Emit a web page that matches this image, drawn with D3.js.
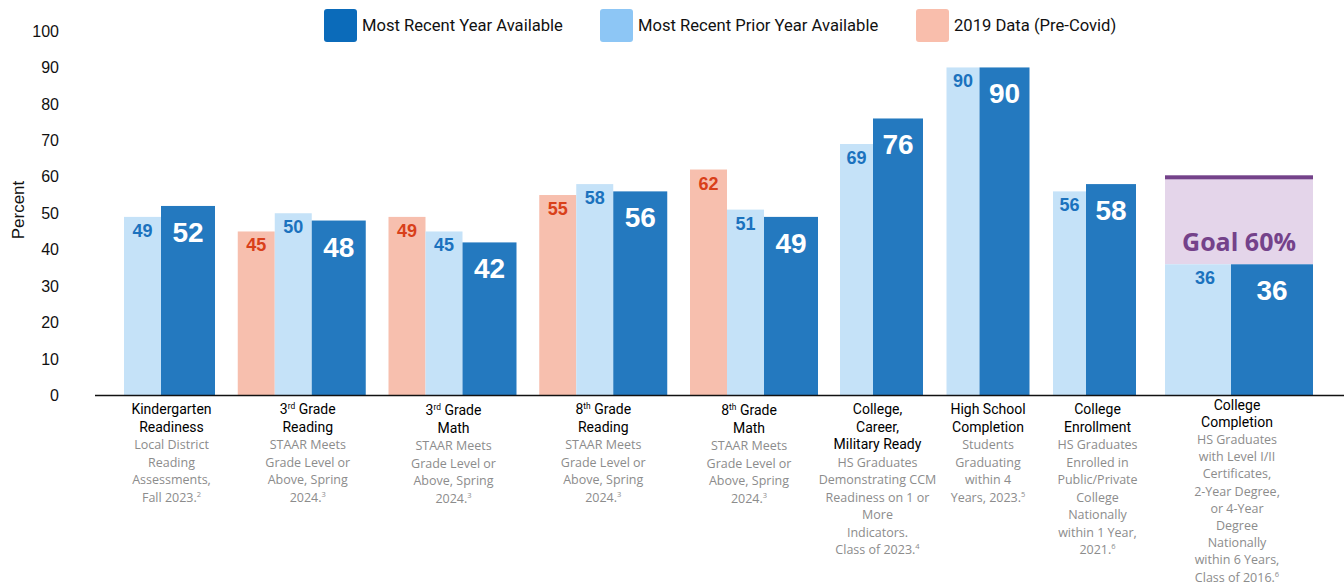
<!DOCTYPE html>
<html>
<head>
<meta charset="utf-8">
<script src="https://cdn.jsdelivr.net/npm/d3@7"></script>
<style>
  body { margin: 0; background: white; }
  svg { display: block; }
</style>
</head>
<body>
<div id="container"></div>
<script>
// data
const categories = ["Kindergarten Readiness", "3rd Grade Reading", "3rd Grade Math", "8th Grade Reading",
  "8th Grade Math", "College, Career, Military Ready", "High School Completion", "College Enrollment", "College Completion"]
const recent = [52, 48, 42, 56, 49, 76, 90, 58, 36]
const prior = [49, 50, 45, 58, 51, 69, 90, 56, 36]
const pre2019 = [null, 45, 49, 55, 62, null, null, null, null]
const goalValue = 60
const yTicks = [0, 10, 20, 30, 40, 50, 60, 70, 80, 90, 100]
const legendLabels = ["Most Recent Year Available", "Most Recent Prior Year Available", "2019 Data (Pre-Covid)"]

// label lines: [text, superscript, rest]
const titleLines = [
  [["Kindergarten"], ["Readiness"]],
  [["3", "rd", " Grade"], ["Reading"]],
  [["3", "rd", " Grade"], ["Math"]],
  [["8", "th", " Grade"], ["Reading"]],
  [["8", "th", " Grade"], ["Math"]],
  [["College,"], ["Career,"], ["Military Ready"]],
  [["High School"], ["Completion"]],
  [["College"], ["Enrollment"]],
  [["College"], ["Completion"]]
]
const subLines = [
  [["Local District"], ["Reading"], ["Assessments,"], ["Fall 2023.", "2"]],
  [["STAAR Meets"], ["Grade Level or"], ["Above, Spring"], ["2024.", "3"]],
  [["STAAR Meets"], ["Grade Level or"], ["Above, Spring"], ["2024.", "3"]],
  [["STAAR Meets"], ["Grade Level or"], ["Above, Spring"], ["2024.", "3"]],
  [["STAAR Meets"], ["Grade Level or"], ["Above, Spring"], ["2024.", "3"]],
  [["HS Graduates"], ["Demonstrating CCM"], ["Readiness on 1 or"], ["More"], ["Indicators."], ["Class of 2023.", "4"]],
  [["Students"], ["Graduating"], ["within 4"], ["Years, 2023.", "5"]],
  [["HS Graduates"], ["Enrolled in"], ["Public/Private"], ["College"], ["Nationally"], ["within 1 Year,"], ["2021.", "6"]],
  [["HS Graduates"], ["with Level I/II"], ["Certificates,"], ["2-Year Degree,"], ["or 4-Year"], ["Degree"], ["Nationally"], ["within 6 Years,"], ["Class of 2016.", "6"]]
]

const DARK = '#2479bf'
const LIGHT = '#c5e2f8'
const SALMON = '#f7bfae'

const W = 1344, H = 586
const svg = d3.select('#container').append('svg')
  .attr('width', W).attr('height', H)
  .style('font-family', '"Open Sans", sans-serif')

const y = d3.scaleLinear().domain([0, 100]).range([395.5, 31])

// group layout: left edge and bar widths [salmon, light, dark]
function groupLayout(i) {
  if (i < 5) return {x: 87 + i * 150.75, w: [37, 37, 54]}
  if (i < 8) return {x: 840 + (i - 5) * 106.5, w: [0, 33, 50]}
  return {x: 1165, w: [0, 66, 82]}
}
const labelDx = [2, 6, 1, 0, -5, -4, 0, 3, -2]
const groups = categories.map((c, i) => {
  const g = groupLayout(i)
  const xSalmon = g.x
  const xLight = i < 5 ? g.x + g.w[0] : g.x
  const xDark = xLight + g.w[1]
  return {i, c, xSalmon, xLight, xDark, w: g.w, left: i < 5 && pre2019[i] == null ? xLight : g.x, right: xDark + g.w[2]}
})

// y axis tick labels
svg.append('g').selectAll('text').data(yTicks).join('text')
  .attr('x', 59).attr('y', d => y(d)).attr('dy', '0.35em')
  .attr('text-anchor', 'end')
  .style('font-family', '"Liberation Sans", Arial, sans-serif')
  .style('font-size', '16px').attr('fill', '#111')
  .text(d => d)

svg.append('text')
  .attr('transform', 'translate(24,210) rotate(-90)')
  .attr('text-anchor', 'middle')
  .style('font-family', '"Liberation Sans", Arial, sans-serif')
  .style('font-size', '17px').attr('fill', '#111')
  .text('Percent')

// goal box for last group
const last = groups[8]
svg.append('rect')
  .attr('x', last.xLight).attr('y', y(goalValue))
  .attr('width', last.right - last.xLight).attr('height', y(recent[8]) - y(goalValue))
  .attr('fill', '#e4d5ea')
svg.append('rect')
  .attr('x', last.xLight).attr('y', y(goalValue) - 1.5)
  .attr('width', last.right - last.xLight).attr('height', 4)
  .attr('fill', '#74428a')
svg.append('text')
  .attr('x', (last.xLight + last.right) / 2).attr('y', 251)
  .attr('text-anchor', 'middle')
  .style('font-size', '25px').style('font-weight', 700).attr('fill', '#74428a')
  .text('Goal ' + goalValue + '%')

// bars
const bars = svg.append('g')
bars.selectAll('rect.pre').data(groups.filter(g => pre2019[g.i] != null)).join('rect')
  .attr('class', 'pre')
  .attr('x', g => g.xSalmon).attr('width', g => g.w[0])
  .attr('y', g => y(pre2019[g.i])).attr('height', g => y(0) - y(pre2019[g.i]))
  .attr('fill', SALMON)
bars.selectAll('rect.prior').data(groups).join('rect')
  .attr('class', 'prior')
  .attr('x', g => g.xLight).attr('width', g => g.w[1])
  .attr('y', g => y(prior[g.i])).attr('height', g => y(0) - y(prior[g.i]))
  .attr('fill', LIGHT)
bars.selectAll('rect.recent').data(groups).join('rect')
  .attr('class', 'recent')
  .attr('x', g => g.xDark).attr('width', g => g.w[2])
  .attr('y', g => y(recent[g.i])).attr('height', g => y(0) - y(recent[g.i]))
  .attr('fill', DARK)

// value labels
const labels = svg.append('g').style('font-weight', 700).attr('text-anchor', 'middle')
  .style('font-family', '"Liberation Sans", Arial, sans-serif')
labels.selectAll('text.pre').data(groups.filter(g => pre2019[g.i] != null)).join('text')
  .attr('x', g => g.xSalmon + g.w[0] / 2).attr('y', g => y(pre2019[g.i]) + 20)
  .style('font-size', '18px').attr('fill', '#d9401a')
  .text(g => pre2019[g.i])
labels.selectAll('text.prior').data(groups).join('text')
  .attr('x', g => g.xLight + g.w[1] / 2 + (g.i == 8 ? 7 : 0))
  .attr('y', g => y(prior[g.i]) + 20)
  .style('font-size', '18px').attr('fill', '#1b72be')
  .text(g => prior[g.i])
labels.selectAll('text.recent').data(groups).join('text')
  .attr('x', g => g.xDark + g.w[2] / 2).attr('y', g => y(recent[g.i]) + 36)
  .style('font-size', '28px').attr('fill', 'white')
  .text(g => recent[g.i])

// x axis line
svg.append('line')
  .attr('x1', 95).attr('x2', W).attr('y1', 395.5).attr('y2', 395.5)
  .attr('stroke', '#111').attr('stroke-width', 1.5)

// category labels
function addLine(sel, parts, size) {
  sel.append('tspan').text(parts[0])
  if (parts.length > 1) {
    sel.append('tspan').attr('dy', -5).style('font-size', (size * 0.6) + 'px').text(parts[1])
    if (parts.length > 2) sel.append('tspan').attr('dy', 5).text(parts[2])
  }
}
groups.forEach(g => {
  const cx = (g.left + g.right) / 2 + labelDx[g.i]
  const top = g.i == 8 ? 410 : (g.i == 2 || g.i == 4 ? 415 : 414)
  const lh = 17.5
  const slh = g.i == 8 ? 17.2 : 17.5
  titleLines[g.i].forEach((ln, k) => {
    const t = svg.append('text').attr('x', cx).attr('y', top + k * (g.i == 8 ? 17 : lh))
      .attr('text-anchor', 'middle')
      .style('font-family', 'Roboto, sans-serif').style('font-weight', 400)
      .style('font-size', '14px').attr('fill', '#000')
    addLine(t, ln, 14)
  })
  const sTop = top + titleLines[g.i].length * (g.i == 8 ? 17 : lh)
  subLines[g.i].forEach((ln, k) => {
    const t = svg.append('text').attr('x', cx).attr('y', sTop + k * slh)
      .attr('text-anchor', 'middle')
      .style('font-size', '12.5px').attr('fill', '#8c8c8c')
    addLine(t, ln, 12.5)
  })
})

// legend
const legendColors = ['#0b6bba', '#8dc6f5', '#f9beac']
const legendX = [324, 600, 916]
legendLabels.forEach((l, i) => {
  svg.append('rect').attr('x', legendX[i]).attr('y', 9).attr('width', 33).attr('height', 33)
    .attr('rx', 3).attr('fill', legendColors[i])
  svg.append('text').attr('x', legendX[i] + 38).attr('y', 25.5).attr('dy', '0.35em')
    .style('font-family', 'Roboto, sans-serif').style('font-size', '16.6px').attr('fill', '#111')
    .text(l)
})
</script>
</body>
</html>
